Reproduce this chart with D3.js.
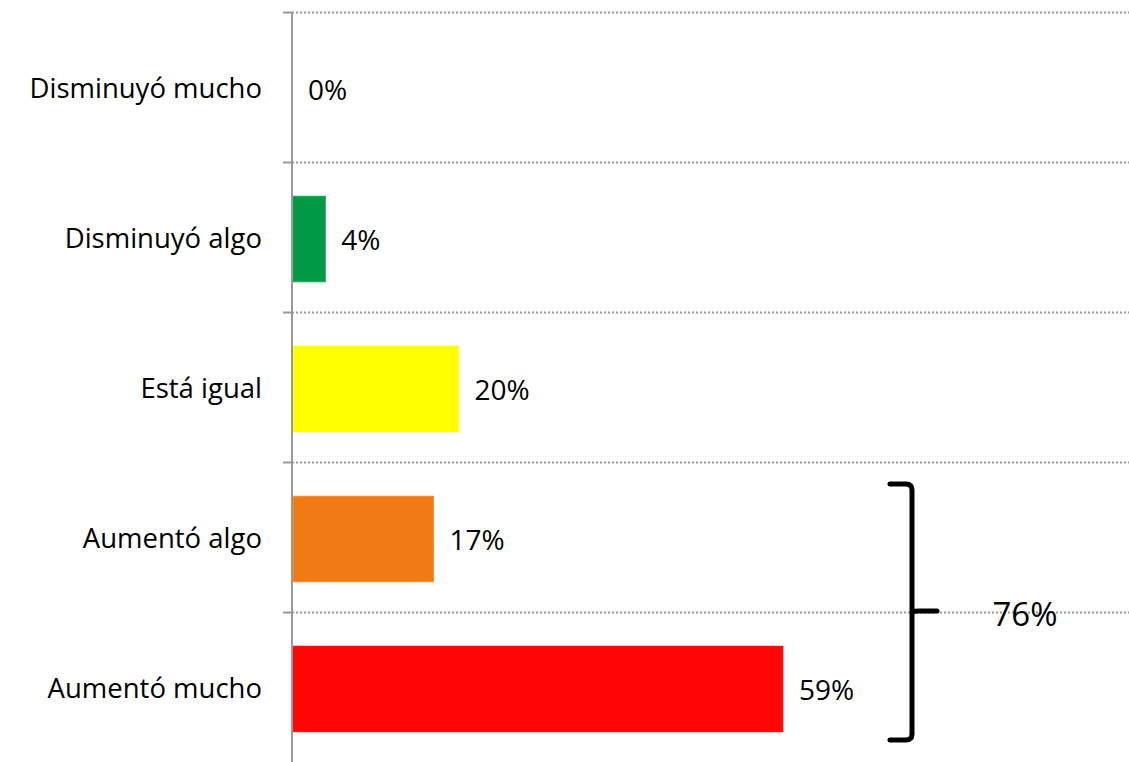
<!DOCTYPE html>
<html><head><meta charset="utf-8">
<script src="https://cdn.jsdelivr.net/npm/d3@7"></script>
<style>body{margin:0;background:#fff}svg{display:block}</style>
</head><body>
<svg id="c" width="1129" height="762"></svg>
<script>
(function(){
const categories = ["Disminuyó mucho","Disminuyó algo","Está igual","Aumentó algo","Aumentó mucho"];
const values = [0,4,20,17,59];
const colors = ["#009A44","#009A44","#FFFF00","#F27A14","#FF0505"];
const valueLabels = ["0%","4%","20%","17%","59%"];
const bracketCategories = ["Aumentó algo","Aumentó mucho"];
const bracketLabel = "76%";

const svg = d3.select("#c");
const font = "'Open Sans', 'Noto Sans', sans-serif";
const x = d3.scaleLinear().domain([0,100]).range([292,1124]);
const y = d3.scaleBand().domain(categories).range([14,764]).paddingInner(0.43).paddingOuter(0.215);
const yb = d3.scaleBand().domain(categories).range([12,762]);

const bounds = categories.map(c => yb(c));
svg.append("g").selectAll("line").data(bounds).join("line")
  .attr("x1", x(0)).attr("x2", 1129)
  .attr("y1", d => d+0.5).attr("y2", d => d+0.5)
  .attr("stroke","#999").attr("stroke-width",2).attr("stroke-dasharray","2,2");
svg.append("g").selectAll("line").data(bounds).join("line")
  .attr("x1", x(0)-9).attr("x2", x(0))
  .attr("y1", d => d+0.5).attr("y2", d => d+0.5)
  .attr("stroke","#999").attr("stroke-width",2);

svg.append("g").selectAll("rect").data(values).join("rect")
  .attr("x", x(0)+1).attr("y", (d,i) => y(categories[i]))
  .attr("width", d => Math.max(0, x(d)-x(0)-1)).attr("height", y.bandwidth())
  .attr("fill", (d,i) => colors[i])
  .attr("stroke", (d,i) => d3.color(colors[i]).brighter(0.4)).attr("stroke-width", d => d>0?1:0);

svg.append("line").attr("x1", x(0)).attr("x2", x(0)).attr("y1", 12).attr("y2", 762)
  .attr("stroke","#999").attr("stroke-width",2);

svg.append("g").selectAll("text").data(categories).join("text")
  .attr("x", 262).attr("y", d => yb(d)+yb.bandwidth()/2)
  .attr("text-anchor","end").attr("dominant-baseline","central")
  .attr("font-family",font).attr("font-size",27.5).attr("fill","#000")
  .text(d => d);

svg.append("g").selectAll("text").data(values).join("text")
  .attr("x", d => x(d)+16).attr("y", (d,i) => yb(categories[i])+yb.bandwidth()/2+2)
  .attr("dominant-baseline","central")
  .attr("font-family",font).attr("font-size",28).attr("fill","#000")
  .text((d,i) => valueLabels[i]);

const bTop = yb(bracketCategories[0]) + 22;
const bBot = yb(bracketCategories[1]) + yb.bandwidth() - 22;
const mid = yb(bracketCategories[1]);
const bx = 912;
const p = d3.path();
p.moveTo(bx-22, bTop);
p.lineTo(bx-6, bTop); p.quadraticCurveTo(bx, bTop, bx, bTop+6);
p.lineTo(bx, bBot-6); p.quadraticCurveTo(bx, bBot, bx-6, bBot);
p.lineTo(bx-22, bBot);
p.moveTo(bx, mid);
p.quadraticCurveTo(bx+2, mid-1, bx+8, mid-1);
p.lineTo(bx+25, mid-1);
svg.append("path").attr("d", p.toString()).attr("fill","none")
  .attr("stroke","#000").attr("stroke-width",5).attr("stroke-linecap","round");
svg.append("text").attr("x", 1025).attr("y", mid+1).attr("text-anchor","middle")
  .attr("dominant-baseline","central").attr("font-family",font).attr("font-size",33)
  .attr("fill","#000").text(bracketLabel);
})();
</script>
</body></html>
